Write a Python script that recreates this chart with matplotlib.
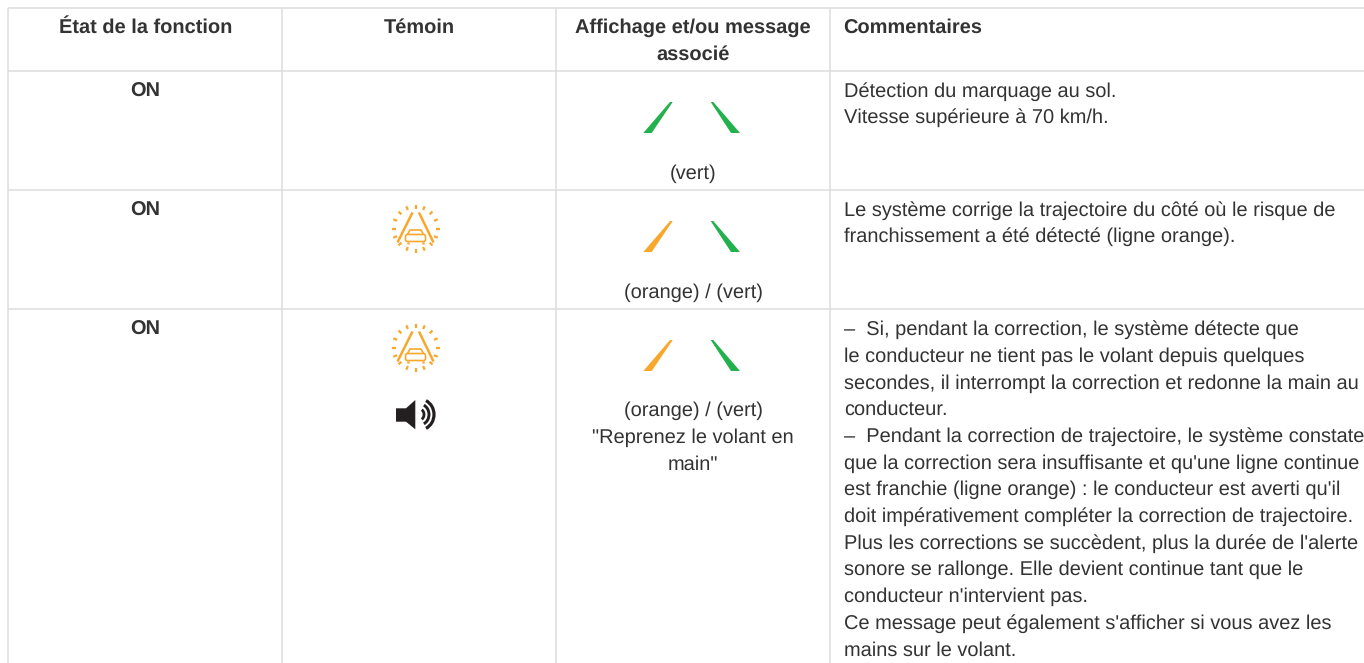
import numpy as np
import matplotlib
matplotlib.use("Agg")
import matplotlib.pyplot as plt
from matplotlib.patches import Polygon, Arc, FancyBboxPatch

headers = ["État de la fonction", "Témoin", "Affichage et/ou message\nassocié", "Commentaires"]
etats = ["ON", "ON", "ON"]
affichage = [["(vert)"],
             ["(orange) / (vert)"],
             ["(orange) / (vert)", "\"Reprenez le volant en", "main\""]]
commentaires = [
    ["Détection du marquage au sol.", "Vitesse supérieure à 70 km/h."],
    ["Le système corrige la trajectoire du côté où le risque de",
     "franchissement a été détecté (ligne orange)."],
    ["–  Si, pendant la correction, le système détecte que",
     "le conducteur ne tient pas le volant depuis quelques",
     "secondes, il interrompt la correction et redonne la main au",
     "conducteur.",
     "–  Pendant la correction de trajectoire, le système constate",
     "que la correction sera insuffisante et qu'une ligne continue",
     "est franchie (ligne orange) : le conducteur est averti qu'il",
     "doit impérativement compléter la correction de trajectoire.",
     "Plus les corrections se succèdent, plus la durée de l'alerte",
     "sonore se rallonge. Elle devient continue tant que le",
     "conducteur n'intervient pas.",
     "Ce message peut également s'afficher si vous avez les",
     "mains sur le volant."],
]

GREEN = "#22b14c"
ORANGE = "#f9a72b"
GRID = "#dcdcdc"
TXT = "#333333"
FS = 14.25
STEP = 26.7

plt.rcParams['font.family'] = ['Liberation Sans', 'DejaVu Sans']
plt.rcParams['text.hinting'] = 'none'
plt.rcParams['text.hinting_factor'] = 1

fig = plt.figure(figsize=(13.64, 6.63), dpi=100)
ax = fig.add_axes([0, 0, 1, 1])
ax.set_xlim(0, 1364)
ax.set_ylim(663, 0)
ax.axis("off")

# grille du tableau
for x in [8, 282, 556, 830]:
    ax.plot([x, x], [8, 663], color=GRID, lw=1.1, solid_capstyle="butt")
for y in [8, 71, 190, 309]:
    ax.plot([8, 1364], [y, y], color=GRID, lw=1.1, solid_capstyle="butt")

# en-tetes
col_x = [145.5, 419, 693]
for x, h in zip(col_x, headers[:3]):
    for i, line in enumerate(h.split("\n")):
        ax.text(x, 33 + i * STEP, line, ha="center", va="baseline", fontsize=FS,
                fontweight="bold", color=TXT)
ax.text(843.5, 33, headers[3], ha="left", va="baseline", fontsize=FS, fontweight="bold", color=TXT)

row_y = [96.5, 215.5, 335]
for y, e in zip(row_y, etats):
    ax.text(145.5, y, e, ha="center", va="baseline", fontsize=FS, fontweight="bold", color=TXT)

# texte sous les icones
aff_y = [178.5, 297.5, 416]
for y, lines in zip(aff_y, affichage):
    for i, line in enumerate(lines):
        ax.text(693, y + i * STEP, line, ha="center", va="baseline", fontsize=FS, color=TXT)

for y, lines in zip(row_y, commentaires):
    for i, line in enumerate(lines):
        ax.text(844, y + i * STEP, line, ha="left", va="baseline", fontsize=FS, color=TXT)


def lignes(dy, left, right):
    # les deux bandes de voie
    ax.add_patch(Polygon([(643.3, dy + 133), (651.7, dy + 133), (672.7, dy + 102), (670, dy + 102)],
                         closed=True, fc=left, ec="none"))
    ax.add_patch(Polygon([(710.7, dy + 102), (713.3, dy + 102), (740, dy + 133), (731, dy + 133)],
                         closed=True, fc=right, ec="none"))


lignes(0, GREEN, GREEN)
lignes(119, ORANGE, GREEN)
lignes(238, ORANGE, GREEN)


def temoin(cx, cy):
    # rayons
    for a in np.deg2rad(np.arange(0, 360, 22.5)):
        ax.plot([cx + 20 * np.cos(a), cx + 24 * np.cos(a)], [cy + 20 * np.sin(a), cy + 24 * np.sin(a)],
                color=ORANGE, lw=1.6, solid_capstyle="butt")
    # voie
    ax.plot([cx - 3, cx - 18], [cy - 16, cy + 14], color=ORANGE, lw=1.8, solid_capstyle="butt")
    ax.plot([cx + 3.5, cx + 18], [cy - 16, cy + 14], color=ORANGE, lw=1.8, solid_capstyle="butt")
    # voiture
    ax.plot([cx - 8, cx - 5.5, cx + 5.5, cx + 8], [cy + 6, cy + 1.5, cy + 1.5, cy + 6], color=ORANGE, lw=1.2)
    ax.add_patch(FancyBboxPatch((cx - 10, cy + 6), 20, 7, boxstyle="round,pad=0,rounding_size=2",
                                fc="white", ec=ORANGE, lw=1.2, zorder=3))
    ax.plot([cx - 7.5, cx - 7.5], [cy + 13, cy + 15.5], color=ORANGE, lw=1.8, solid_capstyle="butt")
    ax.plot([cx + 7.5, cx + 7.5], [cy + 13, cy + 15.5], color=ORANGE, lw=1.8, solid_capstyle="butt")


temoin(415.5, 228.5)
temoin(415.5, 347.5)

# haut-parleur
ax.add_patch(Polygon([(396, 408.3), (406, 408.3), (415.3, 400), (415.3, 429.3), (406, 421.7), (396, 421.7)],
                     closed=True, fc="#231f20", ec="none"))
for w, h, lw in [(9, 11, 2.0), (19, 21, 2.1), (29, 31, 2.3)]:
    ax.add_patch(Arc((419.5, 414.5), w, h, theta1=-65, theta2=65, color="#231f20", lw=lw))

fig.savefig("out.png", dpi=100)
